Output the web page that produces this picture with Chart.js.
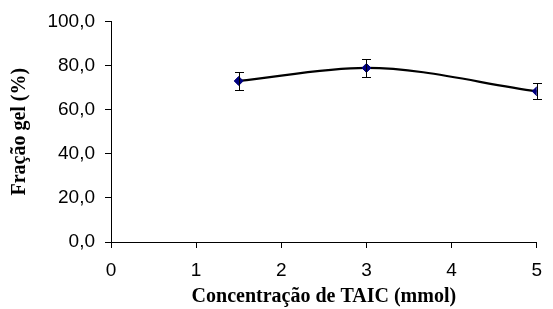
<!DOCTYPE html>
<html>
<head>
<meta charset="utf-8">
<script src="https://cdn.jsdelivr.net/npm/chart.js@4"></script>
<style>
  html, body { margin: 0; padding: 0; background: #fff; }
  #wrap { width: 553px; height: 309px; }
</style>
</head>
<body>
<div id="wrap"><canvas id="gelChart" width="553" height="309"></canvas></div>
<script>
// TAIC concentration (mmol) vs gel fraction (%)
const concentrations = [1.5, 3, 5];
const gelFraction = [73.0, 78.9, 68.3];
const gelError = [3.9, 3.9, 3.6];
const xTicks = [0, 1, 2, 3, 4, 5];
const yTicks = [0, 20, 40, 60, 80, 100];

// Error bars drawn through the chart's own scales
const errorBars = {
    id: 'errorBars',
    afterDatasetsDraw(chart) {
        const { ctx, scales: { x, y } } = chart;
        ctx.save();
        ctx.strokeStyle = '#000';
        ctx.lineWidth = 1;
        concentrations.forEach((c, i) => {
            const px = Math.round(x.getPixelForValue(c)) + 0.5;
            const top = Math.round(y.getPixelForValue(gelFraction[i] + gelError[i])) + 0.5;
            const bot = Math.round(y.getPixelForValue(gelFraction[i] - gelError[i])) + 0.5;
            ctx.beginPath();
            ctx.moveTo(px, top); ctx.lineTo(px, bot);
            ctx.moveTo(px - 4.5, top); ctx.lineTo(px + 4.5, top);
            ctx.moveTo(px - 4.5, bot); ctx.lineTo(px + 4.5, bot);
            ctx.stroke();
        });
        ctx.restore();
    }
};

const ctx = document.getElementById('gelChart');
new Chart(ctx.getContext('2d'), {
    type: 'scatter',
    data: {
        datasets: [
            {
                // trend curve through the measured points
                type: 'line',
                data: concentrations.map((c, i) => ({ x: c, y: gelFraction[i] })),
                borderColor: '#000',
                borderWidth: 2.2,
                cubicInterpolationMode: 'monotone',
                pointRadius: 0,
                fill: false,
                order: 2
            },
            {
                data: concentrations.map((c, i) => ({ x: c, y: gelFraction[i] })),
                backgroundColor: '#000080',
                borderColor: '#000080',
                pointStyle: 'rectRot',
                pointRadius: 4.5,
                order: 1
            }
        ]
    },
    options: {
        responsive: false,
        animation: false,
        layout: { padding: { top: 21, right: 7, left: 0, bottom: 0 } },
        plugins: { legend: { display: false }, tooltip: { enabled: false } },
        scales: {
            x: {
                type: 'linear',
                min: 0, max: 5,
                afterBuildTicks: s => { s.ticks = xTicks.map(v => ({ value: v })); },
                afterFit: s => { s.height = 67; },
                border: { color: '#000', width: 1 },
                grid: { drawOnChartArea: false, tickLength: 6, color: '#000' },
                ticks: { color: '#000', padding: 11, font: { family: 'Liberation Sans, Arial', size: 19 } },
                title: {
                    display: true,
                    text: 'Concentração de TAIC (mmol)',
                    color: '#000',
                    padding: { top: 0, bottom: 0 },
                    font: { family: 'Liberation Serif, Times New Roman', size: 20, weight: 'bold' }
                }
            },
            y: {
                min: 0, max: 100,
                afterBuildTicks: s => { s.ticks = yTicks.map(v => ({ value: v })); },
                afterFit: s => { s.width = 111; },
                border: { color: '#000', width: 1 },
                grid: { drawOnChartArea: false, tickLength: 6, color: '#000' },
                ticks: {
                    color: '#000', padding: 10,
                    font: { family: 'Liberation Sans, Arial', size: 19 },
                    callback: v => v.toFixed(1).replace('.', ',')
                },
                title: {
                    display: true,
                    text: 'Fração gel (%)',
                    color: '#000',
                    padding: { top: 8, bottom: 0 },
                    font: { family: 'Liberation Serif, Times New Roman', size: 20, weight: 'bold' }
                }
            }
        }
    },
    plugins: [errorBars]
});
</script>
</body>
</html>
